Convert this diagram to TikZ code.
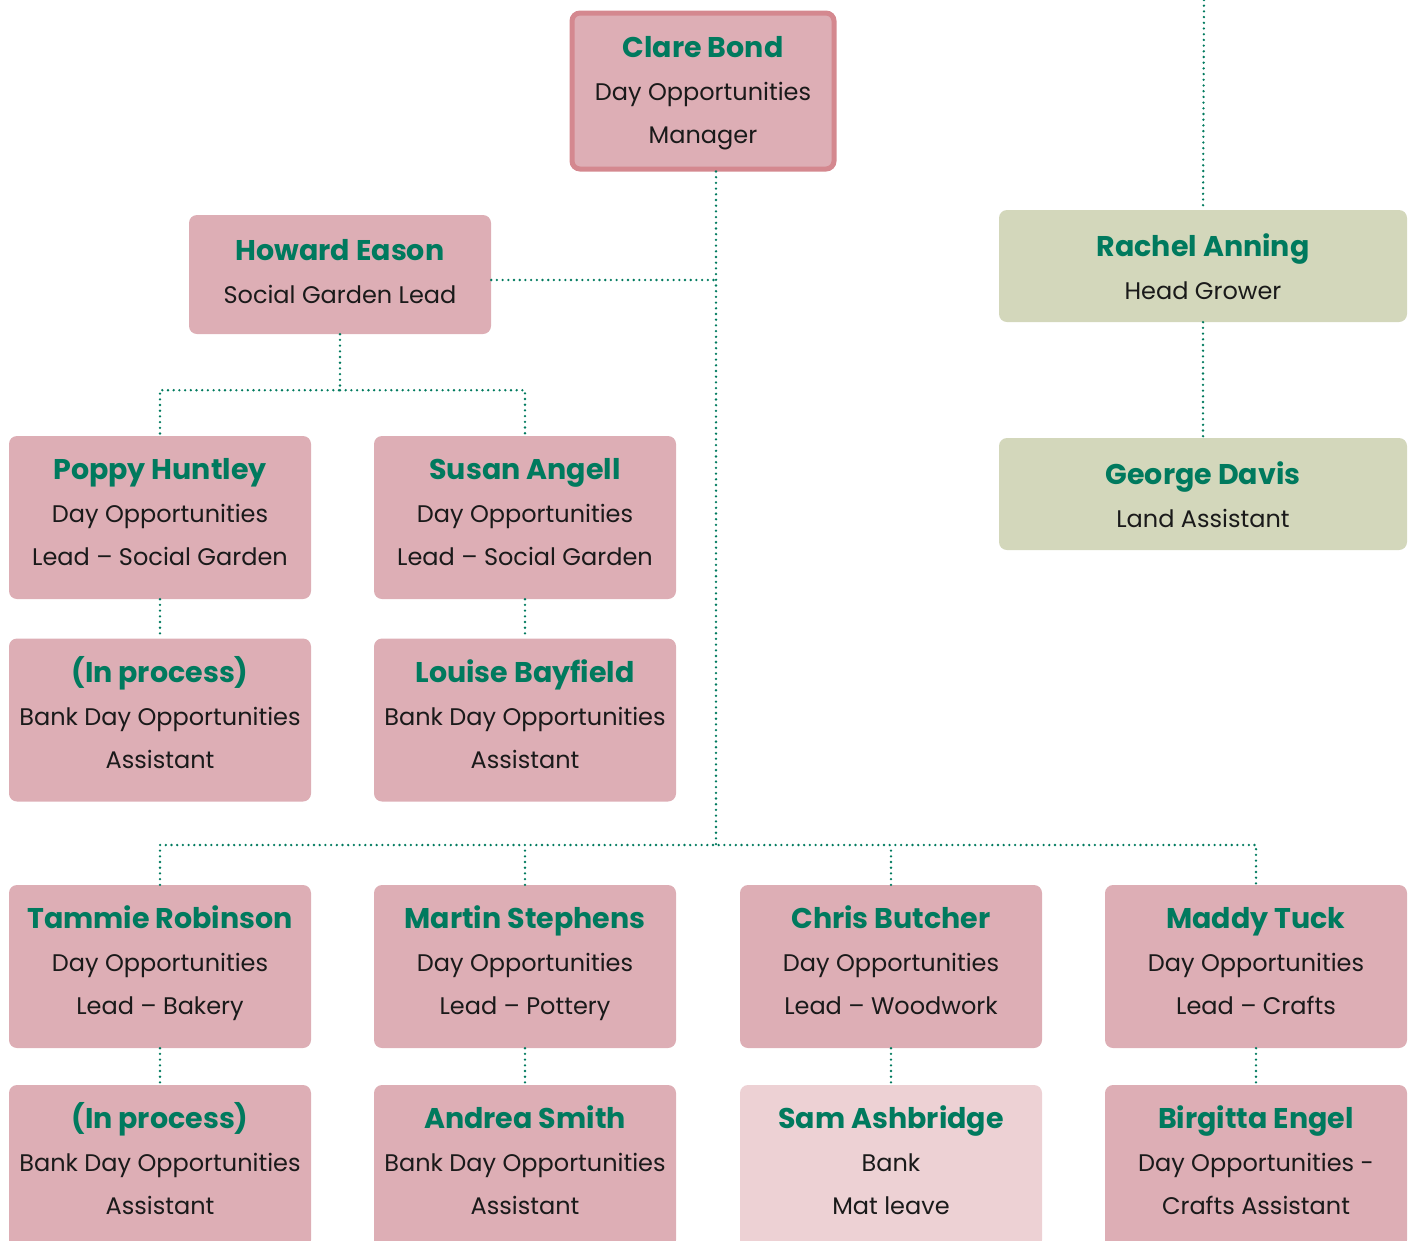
\documentclass[tikz,border=0pt]{standalone}
\usepackage{fontspec}
\setmainfont{Poppins}
\definecolor{boxpink}{HTML}{DDAEB5}
\definecolor{palepink}{HTML}{EDD1D4}
\definecolor{sage}{HTML}{D3D7BB}
\definecolor{edgepink}{HTML}{D4888F}
\definecolor{namegreen}{HTML}{007A5E}
\definecolor{ink}{HTML}{1A1A1A}
\newcommand{\pad}[1]{\rule[-16pt]{0pt}{\dimexpr#1pt+16pt\relax}}
\newcommand{\who}[3][26]{{\fontsize{28.5}{43}\selectfont\bfseries\color{namegreen}\pad{#1}#2}\\#3\pad{0}}
\tikzset{
	card/.style={rectangle, rounded corners=8pt, fill=boxpink, minimum width=302pt, minimum height=163pt, inner sep=0pt, align=center, text=ink, font=\fontsize{24}{43}\selectfont},
	link/.style={namegreen, line width=2.6pt, line cap=round, dash pattern=on 0pt off 5.7pt}
}
\begin{document}
\begin{tikzpicture}[x=1pt, y=-1pt]
		\def\ya{517.5}
		\def\yb{720}
		\def\yc{966.5}
		\def\yd{1166.5}
		\useasboundingbox (0,0) rectangle (1415,1240);
		\clip (0,0) rectangle (1415,1240);
		\node[card, draw=edgepink, line width=5pt, minimum width=262pt, minimum height=156pt] (clare) at (703, 91) {\who[34]{Clare Bond}{Day Opportunities\\Manager}};
		\node[card, minimum height=119pt] (howard) at (340, 274.5) {\who[30]{Howard Eason}{Social Garden Lead}};
		\node[card] (poppy) at (160, \ya) {\who{Poppy Huntley}{Day Opportunities\\Lead – Social Garden}};
		\node[card] (susan) at (525, \ya) {\who{Susan Angell}{Day Opportunities\\Lead – Social Garden}};
		\node[card] (inproca) at (160, \yb) {\who{(In process)}{Bank Day Opportunities\\Assistant}};
		\node[card] (louise) at (525, \yb) {\who{Louise Bayfield}{Bank Day Opportunities\\Assistant}};
		\node[card, fill=sage, minimum width=408pt, minimum height=112pt] (rachel) at (1203, 266) {\who[40]{Rachel Anning}{Head Grower}};
		\node[card, fill=sage, minimum width=408pt, minimum height=112pt] (george) at (1203, 494) {\who[40]{George Davis}{Land Assistant}};
		\node[card] (tammie) at (160, \yc) {\who{Tammie Robinson}{Day Opportunities\\Lead – Bakery}};
		\node[card] (martin) at (525, \yc) {\who{Martin Stephens}{Day Opportunities\\Lead – Pottery}};
		\node[card] (chris) at (891, \yc) {\who{Chris Butcher}{Day Opportunities\\Lead – Woodwork}};
		\node[card] (maddy) at (1256, \yc) {\who{Maddy Tuck}{Day Opportunities\\Lead – Crafts}};
		\node[card] (inprocb) at (160, \yd) {\who{(In process)}{Bank Day Opportunities\\Assistant}};
		\node[card] (andrea) at (525, \yd) {\who{Andrea Smith}{Bank Day Opportunities\\Assistant}};
		\node[card, fill=palepink] (sam) at (891, \yd) {\who{Sam Ashbridge}{Bank\\Mat leave}};
		\node[card] (birgitta) at (1256, \yd) {\who{Birgitta Engel}{Day Opportunities -\\Crafts Assistant}};
		\coordinate (spine) at ([xshift=13pt]clare.south);
		\coordinate (bus) at (716, 845);
		\coordinate (topedge) at (1204, 0);
		\draw[link] (spine) -- (bus);
		\draw[link] ([yshift=-5.5pt]howard.east) -- ([yshift=-5.5pt]howard.east -| spine);
		\draw[link] (howard.south) -- ++(0,56) -| (poppy.north);
		\draw[link] (howard.south) ++(0,56) -| (susan.north);
		\draw[link] (poppy.south) -- (inproca.north);
		\draw[link] (susan.south) -- (louise.north);
		\draw[link] (tammie.north) |- (bus) -| (maddy.north);
		\draw[link] (martin.north) -- (martin.north |- bus);
		\draw[link] (chris.north) -- (chris.north |- bus);
		\draw[link] (tammie.south) -- (inprocb.north);
		\draw[link] (martin.south) -- (andrea.north);
		\draw[link] (chris.south) -- (sam.north);
		\draw[link] (maddy.south) -- (birgitta.north);
		\draw[link] (topedge) -- (rachel.north);
		\draw[link] (rachel.south) -- (george.north);
	\end{tikzpicture}
\end{document}
